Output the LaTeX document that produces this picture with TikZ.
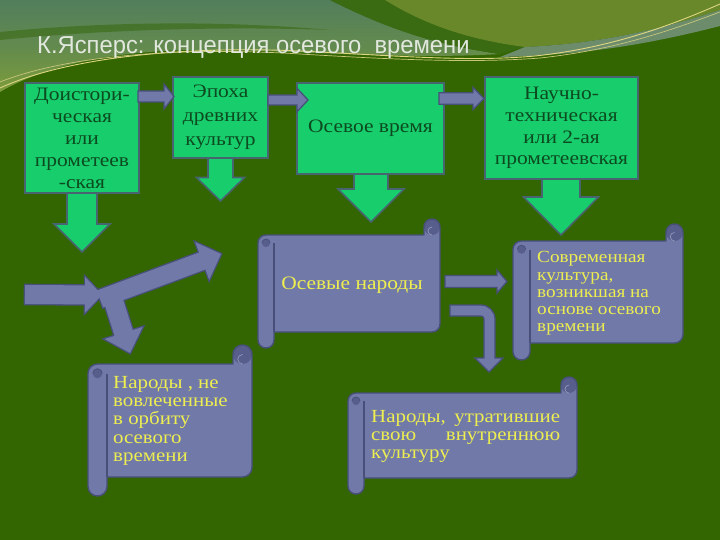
\documentclass[tikz,border=0pt]{standalone}
\usepackage{fontspec}
\setmainfont{Liberation Serif}
\newfontfamily\boxfont[FakeStretch=1.13]{Liberation Serif}
\newfontfamily\titlefont[FakeStretch=0.97]{Liberation Sans}
\usetikzlibrary{calc}
\definecolor{bgdark}{RGB}{51,102,0}
\definecolor{topgray}{RGB}{82,126,92}
\definecolor{topolive}{RGB}{104,136,42}
\definecolor{swoosh}{RGB}{58,106,18}
\definecolor{bandblue}{RGB}{108,140,108}
\definecolor{glowyellow}{RGB}{124,156,58}
\definecolor{lineyellow}{RGB}{222,214,128}
\definecolor{titlecol}{RGB}{226,232,222}
\definecolor{greenfill}{RGB}{24,206,108}
\definecolor{greenborder}{RGB}{72,100,112}
\definecolor{greentext}{RGB}{12,74,32}
\definecolor{scrollfill}{RGB}{112,121,168}
\definecolor{scrollshade}{RGB}{88,94,140}
\definecolor{scrollborder}{RGB}{72,80,122}
\definecolor{scrolltext}{RGB}{238,238,80}

\tikzset{
  greenbox/.style={draw=greenborder, line width=2pt, fill=greenfill, inner sep=0pt,
    text=greentext, align=center, font=\boxfont\fontsize{19}{22}\selectfont},
  greenarrow/.style={draw=greenborder, line width=1.6pt, fill=greenfill, line join=miter},
  grayarrow/.style={draw=scrollborder, line width=1.3pt, fill=scrollfill, line join=miter},
  scrolltxt/.style={text=scrolltext, inner sep=0pt, align=left},
}

% block arrow: [style]{start}{end}{shaft half width}{head half width}{head length}
\newcommand\blockarrow[6][]{%
  \coordinate (baH) at ($(#3)!#6!(#2)$);
  \path[#1] ($(#2)!#4!90:(#3)$) -- ($(baH)!#4!-90:(#2)$) -- ($(baH)!#5!-90:(#2)$)
    -- (#3) -- ($(baH)!#5!90:(#2)$) -- ($(baH)!#4!90:(#2)$) -- ($(#2)!#4!-90:(#3)$) -- cycle;
}

% scroll: {left}{top}{right}{bottom}{roll size}
\newcommand\scrollshape[5]{%
  \pgfmathsetmacro\scL{#1}\pgfmathsetmacro\scT{#2}%
  \pgfmathsetmacro\scR{#3}\pgfmathsetmacro\scB{#4}%
  \pgfmathsetmacro\scC{#5}\pgfmathsetmacro\scH{#5/2}\pgfmathsetmacro\scQ{#5/4}%
  \def\scPath{(\scL,\scB-\scH) -- (\scL,\scT+\scC+\scH)
    arc[start angle=180,end angle=270,radius=\scH] -- (\scR-\scC,\scT+\scC)
    -- (\scR-\scC,\scT+\scH) arc[start angle=180,end angle=360,radius=\scH]
    -- (\scR,\scB-\scC-\scH) arc[start angle=0,end angle=90,radius=\scH]
    -- (\scL+\scC,\scB-\scC) -- (\scL+\scC,\scB-\scH)
    arc[start angle=0,end angle=180,radius=\scH] -- cycle}%
  \fill[scrollfill] \scPath;
  \fill[scrollshade] (\scR-\scH,\scT+\scH) circle[radius=\scH];
  \draw[scrollborder, line width=1.4pt, line join=round] \scPath;
  \draw[scrollborder, line width=1.2pt] (\scL+\scC,\scT+\scC+\scH) -- (\scL+\scC,\scB-\scC);
  \fill[scrollshade] (\scL+\scH,\scT+\scC+\scH) circle[radius=\scQ];
  \draw[scrollborder, line width=0.8pt] (\scL+\scH-\scQ,\scT+\scC+\scH)
    arc[start angle=180,end angle=360,radius=\scQ];
  \draw[scrollfill!70!white, line width=0.6pt] (\scR-\scH,\scT+\scC)
    arc[start angle=90,end angle=270,radius=\scQ];
}

\begin{document}
\begin{tikzpicture}[x=1pt,y=-1pt]
\useasboundingbox (0,0) rectangle (720,540);
% ---------- background ----------
\fill[bgdark] (0,0) rectangle (720,540);
\shade[top color=topgray, bottom color=glowyellow, middle color=topgray!60!glowyellow]
  (0,0) -- (335,0) .. controls (385,28) and (435,45) .. (500,54)
  .. controls (400,60) and (300,50) .. (200,50)
  .. controls (110,50) and (40,68) .. (0,92) -- cycle;
\fill[swoosh, opacity=0.6] (0,32) .. controls (100,22) and (220,20) .. (330,30)
  .. controls (220,26) and (100,30) .. (0,40) -- cycle;
\fill[swoosh] (330,0) -- (385,0) .. controls (425,25) and (470,40) .. (525,47)
  -- (500,54) .. controls (435,45) and (385,28) .. (330,0) -- cycle;
\fill[topolive] (385,0) -- (720,0) -- (720,10)
  .. controls (650,33) and (590,44) .. (525,47)
  .. controls (470,40) and (425,25) .. (385,0) -- cycle;
\fill[bandblue] (525,47) .. controls (590,44) and (650,33) .. (720,10)
  -- (720,26) .. controls (650,44) and (585,55) .. (500,57) -- cycle;
\draw[lineyellow, line width=0.9pt] (0,88) .. controls (70,56) and (190,46) .. (300,51)
  .. controls (400,56) and (470,62) .. (535,56) .. controls (610,48) and (670,26) .. (720,4);
\draw[lineyellow!80!bandblue, line width=0.7pt] (0,82) .. controls (70,54) and (190,47) .. (300,54)
  .. controls (400,60) and (475,63) .. (540,58) .. controls (615,50) and (672,30) .. (720,12);

% ---------- title ----------
\node[anchor=base west, inner sep=0pt, text=titlecol,
  font=\titlefont\fontsize{24.5}{28}\selectfont] (title) at (37,54)
  {К.Ясперс: концепция осевого\ \ времени};

% ---------- green down arrows ----------
\coordinate (d1s) at (82,192); \coordinate (d1e) at (82,252);
\coordinate (d2s) at (220.5,157); \coordinate (d2e) at (220.5,201);
\coordinate (d3s) at (371,173); \coordinate (d3e) at (371,222);
\coordinate (d4s) at (561,178); \coordinate (d4e) at (561,235);
\blockarrow[greenarrow]{d1s}{d1e}{15pt}{28pt}{28pt}
\blockarrow[greenarrow]{d2s}{d2e}{12.5pt}{24pt}{23.5pt}
\blockarrow[greenarrow]{d3s}{d3e}{17pt}{33pt}{33pt}
\blockarrow[greenarrow]{d4s}{d4e}{19pt}{37.5pt}{38pt}

% ---------- green boxes ----------
\node[greenbox, minimum width=114pt, minimum height=110pt] (b1) at (82,138)
  {Доистори-\\ческая\\или\\прометеев\\-ская};
\node[greenbox, minimum width=95pt, minimum height=81pt,
  font=\boxfont\fontsize{19}{24}\selectfont] (b2) at (220.5,117.5)
  {Эпоха\\древних\\культур};
\node[greenbox, minimum width=147pt, minimum height=91pt] (b3) at (370.5,128.5)
  {Осевое время};
\node[greenbox, minimum width=153pt, minimum height=102pt,
  font=\boxfont\fontsize{19}{21.7}\selectfont] (b4) at (561.5,128)
  {Научно-\\техническая\\или 2-ая\\прометеевская};

% ---------- gray arrows between boxes ----------
\coordinate (a1s) at (138,96.5); \coordinate (a1e) at (174,96.5);
\coordinate (a2s) at (268,100); \coordinate (a2e) at (308,100);
\coordinate (a3s) at (439,98.5); \coordinate (a3e) at (484,98.5);
\blockarrow[grayarrow]{a1s}{a1e}{5.5pt}{12.5pt}{10pt}
\blockarrow[grayarrow]{a2s}{a2e}{5pt}{11.7pt}{11pt}
\blockarrow[grayarrow]{a3s}{a3e}{5.8pt}{11.2pt}{11pt}

% ---------- scrolls ----------
\scrollshape{258}{219}{440}{348}{16}
\scrollshape{88}{345}{252}{496}{19}
\scrollshape{513}{224}{683}{360}{17}
\scrollshape{348}{377}{577}{494}{16}

\node[scrolltxt, anchor=center, font=\boxfont\fontsize{19}{22}\selectfont] (sa) at (352,285)
  {Осевые народы};
\node[scrolltxt, anchor=north west, font=\boxfont\fontsize{18.5}{18.3}\selectfont] (sb) at (113,375.8)
  {Народы , не\\вовлеченные\\в орбиту\\осевого\\времени};
\node[scrolltxt, anchor=north west, font=\boxfont\fontsize{17}{17.2}\selectfont] (sc) at (537,251.5)
  {Современная\\культура,\\возникшая на\\основе осевого\\времени};
\node[scrolltxt, anchor=north west, text width=189pt, font=\boxfont\fontsize{18.5}{18.3}\selectfont] (sd) at (371,409.8)
  {Народы,\hfill утратившие\\свою\hfill внутреннюю\\культуру};

% ---------- arrows between scrolls ----------
\coordinate (r1s) at (445,281.5); \coordinate (r1e) at (507,281.5);
\blockarrow[grayarrow]{r1s}{r1e}{6pt}{11.5pt}{10pt}
\draw[grayarrow] (450,305) -- (481,305) arc[start angle=270,end angle=360,radius=14]
  -- (495,358) -- (503,358) -- (489,372) -- (475,358) -- (484,358) -- (484,319)
  arc[start angle=360,end angle=270,radius=3] -- (450,316) -- cycle;

% ---------- branching arrow ----------
\coordinate (hs) at (25,294.5); \coordinate (he) at (102,295);
\coordinate (us) at (100,299); \coordinate (ue) at (221,254);
\coordinate (ls) at (111,293); \coordinate (le) at (130,353);
\blockarrow[draw=scrollborder, line width=2.6pt, line join=miter]{hs}{he}{9.5pt}{18pt}{17pt}
\blockarrow[draw=scrollborder, line width=2.6pt, line join=miter]{us}{ue}{9pt}{20pt}{20pt}
\blockarrow[draw=scrollborder, line width=2.6pt, line join=miter]{ls}{le}{9.5pt}{20pt}{21pt}
\blockarrow[fill=scrollfill]{hs}{he}{9.5pt}{18pt}{17pt}
\blockarrow[fill=scrollfill]{us}{ue}{9pt}{20pt}{20pt}
\blockarrow[fill=scrollfill]{ls}{le}{9.5pt}{20pt}{21pt}
\end{tikzpicture}
\end{document}
